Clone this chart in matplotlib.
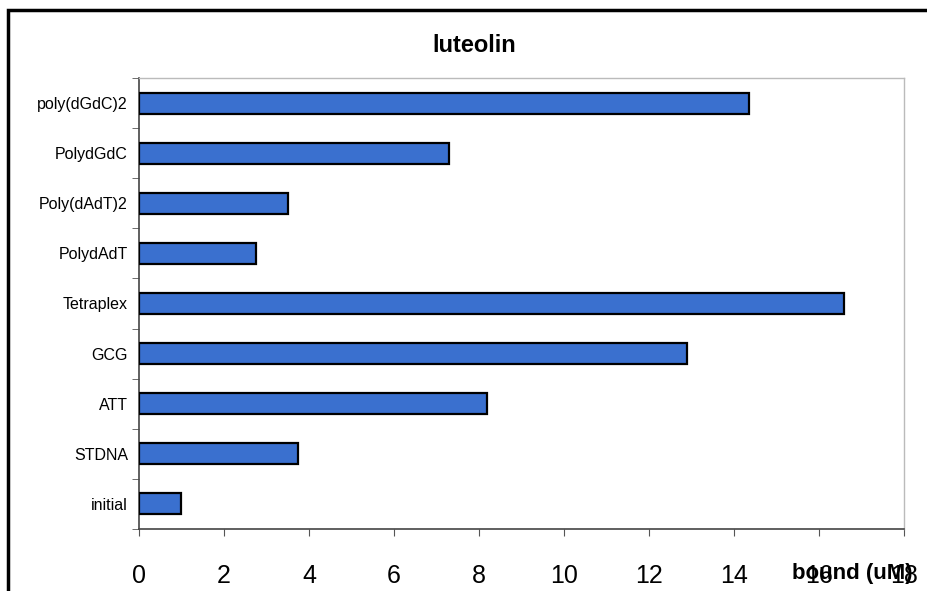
import matplotlib
matplotlib.use("Agg")
import matplotlib.pyplot as plt
from matplotlib.patches import Rectangle
import numpy as np

categories = ["initial", "STDNA", "ATT", "GCG", "Tetraplex", "PolydAdT",
              "Poly(dAdT)2", "PolydGdC", "poly(dGdC)2"]
values = [1.0, 3.75, 8.2, 12.9, 16.6, 2.75, 3.5, 7.3, 14.35]
xticks = [0, 2, 4, 6, 8, 10, 12, 14, 16, 18]

plt.rcParams['font.family'] = ['Liberation Sans', 'DejaVu Sans']

W, H = 928, 591
fig = plt.figure(figsize=(W / 100, H / 100), dpi=100)
fig.patch.set_facecolor("white")

L, R, T, B = 139, 904, 78, 529
ax = fig.add_axes([L / W, 1 - B / H, (R - L) / W, (B - T) / H])

y = np.arange(len(categories))
ax.barh(y, values, height=0.42, color="#3a70cf", edgecolor="black", linewidth=1.6, zorder=3)

ax.set_xlim(0, 18)
ax.set_ylim(-0.5, len(categories) - 0.5)
ax.set_xticks(xticks)
ax.set_xticklabels([str(v) for v in xticks], fontsize=18)
ax.set_yticks(y)
ax.set_yticklabels(categories, fontsize=11.5)
ax.set_yticks(np.arange(-0.5, len(categories), 1.0), minor=True)
ax.tick_params(axis='y', which='major', length=0, pad=8)
ax.tick_params(axis='y', which='minor', length=5, direction='out', color='#555555')
ax.tick_params(axis='x', which='major', length=5, direction='out', color='#555555', pad=20)

for s in ['left', 'bottom']:
    ax.spines[s].set_color('#444444')
    ax.spines[s].set_linewidth(1.2)
for s in ['top', 'right']:
    ax.spines[s].set_color('#bbbbbb')
    ax.spines[s].set_linewidth(1.0)

fig.text(474 / W, 1 - 45 / H, "luteolin", ha='center', va='center',
         fontsize=17, fontweight='bold')
fig.text(852 / W, 1 - 574 / H, "bound (uM)", ha='center', va='center',
         fontsize=16, fontweight='bold')

# outer frame
fig.add_artist(Rectangle((8 / W, -0.05), 1.2, 1 - 10 / H + 0.05, transform=fig.transFigure,
                         fill=False, edgecolor='black', linewidth=2.5))

fig.savefig("out.png", dpi=100)
